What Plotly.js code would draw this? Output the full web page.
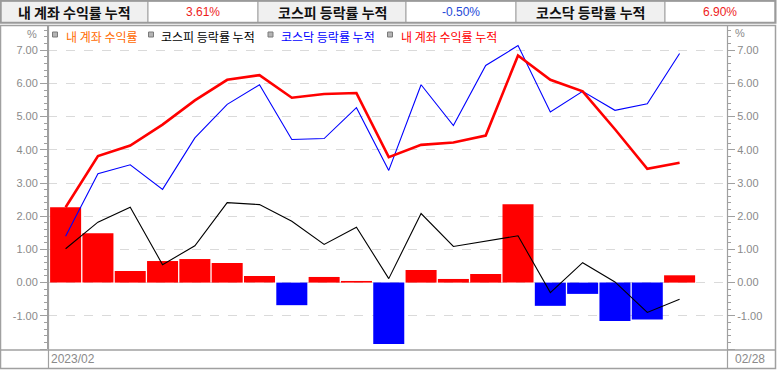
<!DOCTYPE html>
<html>
<head>
<meta charset="utf-8">
<script src="https://cdn.plot.ly/plotly-3.0.1.min.js"></script>
<style>
html,body{margin:0;padding:0;background:#ffffff;}
#chart{width:777px;height:370px;}
</style>
</head>
<body>
<div id="chart"></div>
<script>
// ---- data ----
const dates = ['02/01','02/02','02/03','02/06','02/07','02/08','02/09','02/10','02/13','02/14',
               '02/15','02/16','02/17','02/20','02/21','02/22','02/23','02/24','02/27','02/28'];
const dailyReturn = [2.27,1.49,0.35,0.65,0.71,0.59,0.20,-0.68,0.17,0.05,
                     -1.85,0.38,0.11,0.26,2.36,-0.70,-0.34,-1.16,-1.11,0.22];
const myCumulative = [2.27,3.81,4.13,4.76,5.49,6.11,6.25,5.57,5.68,5.71,
                      3.78,4.15,4.22,4.43,6.84,6.11,5.76,4.62,3.43,3.61];
const kospiCumulative = [1.02,1.82,2.27,0.54,1.11,2.41,2.35,1.85,1.15,1.67,
                         0.12,2.08,1.09,1.24,1.41,-0.30,0.60,0.02,-0.90,-0.50];
const kosdaqCumulative = [1.40,3.28,3.55,2.81,4.36,5.37,5.96,4.31,4.34,5.27,
                          3.38,5.96,4.73,6.54,7.14,5.14,5.76,5.19,5.39,6.90];
const tickValues = [-2,-1,0,1,2,3,4,5,6,7];
const tickLabels = ['','-1.00','0.00','1.00','2.00','3.00','4.00','5.00','6.00','7.00'];
const headerTitles = ['내 계좌 수익률 누적','코스피 등락률 누적','코스닥 등락률 누적'];
const headerValues = ['3.61%','-0.50%','6.90%'];
const legendNames = ['내 계좌 수익률','코스피 등락률 누적','코스닥 등락률 누적','내 계좌 수익률 누적'];
const startLabel = '2023/02';
const endLabel = '02/28';

// ---- geometry helpers (pixel -> paper) ----
const L=48, R=727, T=26, B=349, W=R-L, H=B-T;
const px = x => (x-L)/W;
const py = y => (B-y)/H;

const RED='#ff0000', BLUE='#0000ff';

const traces = [
  {type:'bar', x:dates, y:dailyReturn, name:legendNames[0],
   marker:{color:dailyReturn.map(v=>v>=0?RED:BLUE), line:{width:0}},
   hoverinfo:'skip'},
  {type:'scatter', mode:'lines', x:dates, y:kospiCumulative, name:legendNames[1],
   line:{color:'#000000', width:1.1}},
  {type:'scatter', mode:'lines', x:dates, y:kosdaqCumulative, name:legendNames[2],
   line:{color:BLUE, width:1.1}},
  {type:'scatter', mode:'lines', x:dates, y:myCumulative, name:legendNames[3],
   yaxis:'y2', line:{color:RED, width:2.6}}
];

const tickFont = {family:'Liberation Sans, Arial, sans-serif', size:11, color:'#8a8a8a'};
const yBase = {
  range:[-2, 7.73], tickmode:'array', tickvals:tickValues, ticktext:tickLabels,
  ticks:'outside', ticklen:7, tickcolor:'#a0a0a0', tickwidth:1,
  showline:true, linecolor:'#a0a0a0', linewidth:1,
  zeroline:false, tickfont:tickFont, fixedrange:true,
  minor:{tickmode:'linear', tick0:0, dtick:0.2, ticks:'outside', ticklen:3, tickcolor:'#a0a0a0', showgrid:false}
};

const GRAYLINE='#a0a0a0';
const shapes = [];
function rect(x0,y0,x1,y1,fill,lw,lc,layer){
  shapes.push({type:'rect', xref:'paper', yref:'paper', x0:px(x0), x1:px(x1), y0:py(y0), y1:py(y1),
               fillcolor:fill, line:{width:lw, color:lc||GRAYLINE}, layer:layer||'below'});
}
function line(x0,y0,x1,y1,lw,lc){
  shapes.push({type:'line', xref:'paper', yref:'paper', x0:px(x0), x1:px(x1), y0:py(y0), y1:py(y1),
               line:{width:lw, color:lc||GRAYLINE}, layer:'above'});
}
// header cells
const cellEdges = [1,148,258,406,516,665,775];
for(let i=0;i<6;i++){
  rect(cellEdges[i],1,cellEdges[i+1],22.5, i%2===0?'#f0f0f0':'#ffffff', 1, GRAYLINE);
}
rect(0.5,0.8,775.5,22.8,'rgba(0,0,0,0)',2,'#9a9a9a','above');
// chart panel
rect(0.5,25.5,775.5,368.5,'rgba(0,0,0,0)',1.5,GRAYLINE,'above');
line(48.5,25.5,48.5,368.5,1.2);
line(727.5,25.5,727.5,368.5,1.2);
line(0.5,350,775.5,350,1.5);
// legend squares
const legendSq = [55,151,270.5,390];
legendSq.forEach(cx=>{
  shapes.push({type:'rect', xref:'paper', yref:'paper', x0:px(cx-2.5), x1:px(cx+2.5), y0:py(37), y1:py(32),
    fillcolor:'#b4b4b4', line:{width:1, color:'#7a7a7a'}, layer:'above'});
});

const annotations = [];
const hdrCenters = [74.5,332,590.5];
const valCenters = [203,461,720];
const valColors = ['#ee1c1c','#2448d8','#ee1c1c'];
headerTitles.forEach((t,i)=>annotations.push({xref:'paper',yref:'paper',x:px(hdrCenters[i]),y:py(12),
  text:'<b>'+t+'</b>', showarrow:false, xanchor:'center', yanchor:'middle',
  font:{family:'Noto Sans CJK KR, sans-serif', size:14, color:'#111111'}}));
headerValues.forEach((t,i)=>annotations.push({xref:'paper',yref:'paper',x:px(valCenters[i]),y:py(12),
  text:t, showarrow:false, xanchor:'center', yanchor:'middle',
  font:{family:'Liberation Sans, Arial, sans-serif', size:12, color:valColors[i]}}));
const legendX = [64,159,279,399];
const legendColors = ['#ff6a00','#000000','#0000ff','#ff0000'];
legendNames.forEach((t,i)=>annotations.push({xref:'paper',yref:'paper',x:px(legendX[i]),y:py(36),
  text:t, showarrow:false, xanchor:'left', yanchor:'middle',
  font:{family:'Noto Sans CJK KR, sans-serif', size:12, color:legendColors[i]}}));
annotations.push({xref:'paper',yref:'paper',x:px(39),y:py(34),text:'%',showarrow:false,xanchor:'right',yanchor:'middle',font:tickFont});
annotations.push({xref:'paper',yref:'paper',x:px(733),y:py(33),text:'%',showarrow:false,xanchor:'left',yanchor:'middle',font:tickFont});
annotations.push({xref:'paper',yref:'paper',x:px(49),y:py(359),text:startLabel,showarrow:false,xanchor:'left',yanchor:'middle',
  font:{family:'Liberation Sans, Arial, sans-serif', size:12, color:'#8a8a8a'}});
annotations.push({xref:'paper',yref:'paper',x:px(750),y:py(359),text:endLabel,showarrow:false,xanchor:'center',yanchor:'middle',
  font:{family:'Liberation Sans, Arial, sans-serif', size:12, color:'#8a8a8a'}});

const layout = {
  width:777, height:370, autosize:false,
  margin:{l:L, r:777-R, t:T, b:370-B, pad:0},
  paper_bgcolor:'#ffffff', plot_bgcolor:'rgba(0,0,0,0)',
  showlegend:false, bargap:0.04,
  xaxis:{type:'category', range:[-0.545, 20.467], showticklabels:false, ticks:'',
         showgrid:false, zeroline:false, showline:false, fixedrange:true},
  yaxis:Object.assign({}, yBase, {side:'left', showgrid:true, gridcolor:'#dadada', gridwidth:1, griddash:'dash'}),
  yaxis2:Object.assign({}, yBase, {side:'right', overlaying:'y', showgrid:false}),
  shapes:shapes, annotations:annotations
};

Plotly.newPlot('chart', traces, layout, {displayModeBar:false, staticPlot:true});
</script>
</body>
</html>
